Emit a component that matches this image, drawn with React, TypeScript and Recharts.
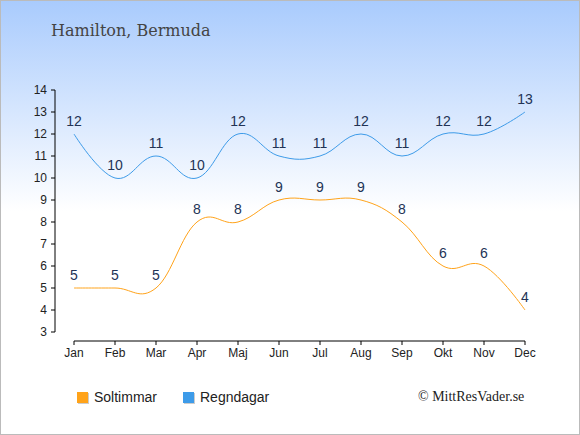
import { LineChart, Line, XAxis, YAxis, LabelList } from 'recharts';

const months = ['Jan', 'Feb', 'Mar', 'Apr', 'Maj', 'Jun', 'Jul', 'Aug', 'Sep', 'Okt', 'Nov', 'Dec'];
const sunHours = [5, 5, 5, 8, 8, 9, 9, 9, 8, 6, 6, 4];
const rainDays = [12, 10, 11, 10, 12, 11, 11, 12, 11, 12, 12, 13];
const yTicks = [3, 4, 5, 6, 7, 8, 9, 10, 11, 12, 13, 14];

const seriesNames = ['Soltimmar', 'Regndagar'];
const seriesColors = ['#ffa31a', '#3d9be9'];

const data = months.map((month, i) => ({
    month,
    sol: sunHours[i],
    regn: rainDays[i],
}));

const sans = '"Liberation Sans", Arial, sans-serif';

// smooth spline, tangent at each point follows its two neighbours
function splineCurve(context: any) {
    let xs: number[] = [];
    let ys: number[] = [];
    return {
        areaStart() {},
        areaEnd() {},
        lineStart() {
            xs = [];
            ys = [];
        },
        point(x: number, y: number) {
            xs.push(+x);
            ys.push(+y);
        },
        lineEnd() {
            const n = xs.length;
            if (!n) return;
            const sm = 1.5;
            const den = sm + 1;
            const lc = xs.map((x, i) => ({ x, y: ys[i] }));
            const rc = xs.map((x, i) => ({ x, y: ys[i] }));
            for (let i = 1; i < n - 1; i++) {
                const px = xs[i], py = ys[i];
                const lx = xs[i - 1], ly = ys[i - 1];
                const nx = xs[i + 1], ny = ys[i + 1];
                const lcx = (sm * px + lx) / den;
                let lcy = (sm * py + ly) / den;
                const rcx = (sm * px + nx) / den;
                let rcy = (sm * py + ny) / den;
                if (rcx !== lcx) {
                    const corr = ((rcy - lcy) * (rcx - px)) / (rcx - lcx) + py - rcy;
                    lcy += corr;
                    rcy += corr;
                }
                lc[i] = { x: lcx, y: lcy };
                rc[i] = { x: rcx, y: rcy };
            }
            context.moveTo(xs[0], ys[0]);
            for (let i = 1; i < n; i++) {
                context.bezierCurveTo(rc[i - 1].x, rc[i - 1].y, lc[i].x, lc[i].y, xs[i], ys[i]);
            }
        },
    };
}

export default function App() {
    return (
        <div
            style={{
                position: 'absolute',
                top: 0,
                left: 0,
                width: 580,
                height: 435,
                boxSizing: 'border-box',
                border: '1px solid #bbbbbb',
                background: 'linear-gradient(to bottom, #a9cbfd 0px, #ffffff 210px)',
                fontFamily: sans,
            }}
        >
            <div
                style={{
                    position: 'absolute',
                    left: 50,
                    top: 20,
                    fontFamily: '"DejaVu Serif", serif',
                    fontSize: 16,
                    color: '#444',
                    whiteSpace: 'nowrap',
                }}
            >
                Hamilton, Bermuda
            </div>

            <div style={{ position: 'absolute', left: -1, top: -1 }}>
                <LineChart
                    width={580}
                    height={435}
                    data={data}
                    margin={{ top: 90, right: 55, bottom: 64, left: 25 }}
                    style={{ fontFamily: sans }}
                >
                    <XAxis
                        dataKey="month"
                        height={30}
                        padding={{ left: 19, right: 0 }}
                        axisLine={{ stroke: '#000', strokeDasharray: '0 19 1000' }}
                        tickLine={{ stroke: '#000' }}
                        tickSize={4}
                        tickMargin={3}
                        tick={{ fontSize: 12, fill: '#222' }}
                        interval={0}
                    />
                    <YAxis
                        width={30}
                        domain={[3, 14]}
                        ticks={yTicks}
                        padding={{ top: 0, bottom: 9 }}
                        axisLine={{ stroke: '#000', strokeDasharray: '242 100' }}
                        tickLine={{ stroke: '#000' }}
                        tickSize={4}
                        tickMargin={4}
                        tick={{ fontSize: 12, fill: '#222' }}
                        interval={0}
                    />
                    <Line
                        type={splineCurve as any}
                        dataKey="sol"
                        stroke={seriesColors[0]}
                        strokeWidth={1}
                        dot={false}
                        isAnimationActive={false}
                    >
                        <LabelList dataKey="sol" position="top" offset={8} fill="#223355" fontSize={14} />
                    </Line>
                    <Line
                        type={splineCurve as any}
                        dataKey="regn"
                        stroke={seriesColors[1]}
                        strokeWidth={1}
                        dot={false}
                        isAnimationActive={false}
                    >
                        <LabelList dataKey="regn" position="top" offset={8} fill="#223355" fontSize={14} />
                    </Line>
                </LineChart>
            </div>

            {seriesNames.map((name, i) => (
                <div
                    key={name}
                    style={{
                        position: 'absolute',
                        left: 76 + i * 106,
                        top: 388,
                        display: 'flex',
                        alignItems: 'center',
                        fontSize: 14,
                        color: '#222',
                        whiteSpace: 'nowrap',
                    }}
                >
                    <span
                        style={{
                            display: 'inline-block',
                            width: 11,
                            height: 11,
                            background: seriesColors[i],
                            boxShadow: '1px 1px 0 #cccccc',
                            marginRight: 6,
                        }}
                    />
                    {name}
                </div>
            ))}

            <div
                style={{
                    position: 'absolute',
                    left: 417,
                    top: 388,
                    fontFamily: '"Liberation Serif", "Times New Roman", serif',
                    fontSize: 14,
                    color: '#222',
                    whiteSpace: 'nowrap',
                }}
            >
                © MittResVader.se
            </div>
        </div>
    );
}
